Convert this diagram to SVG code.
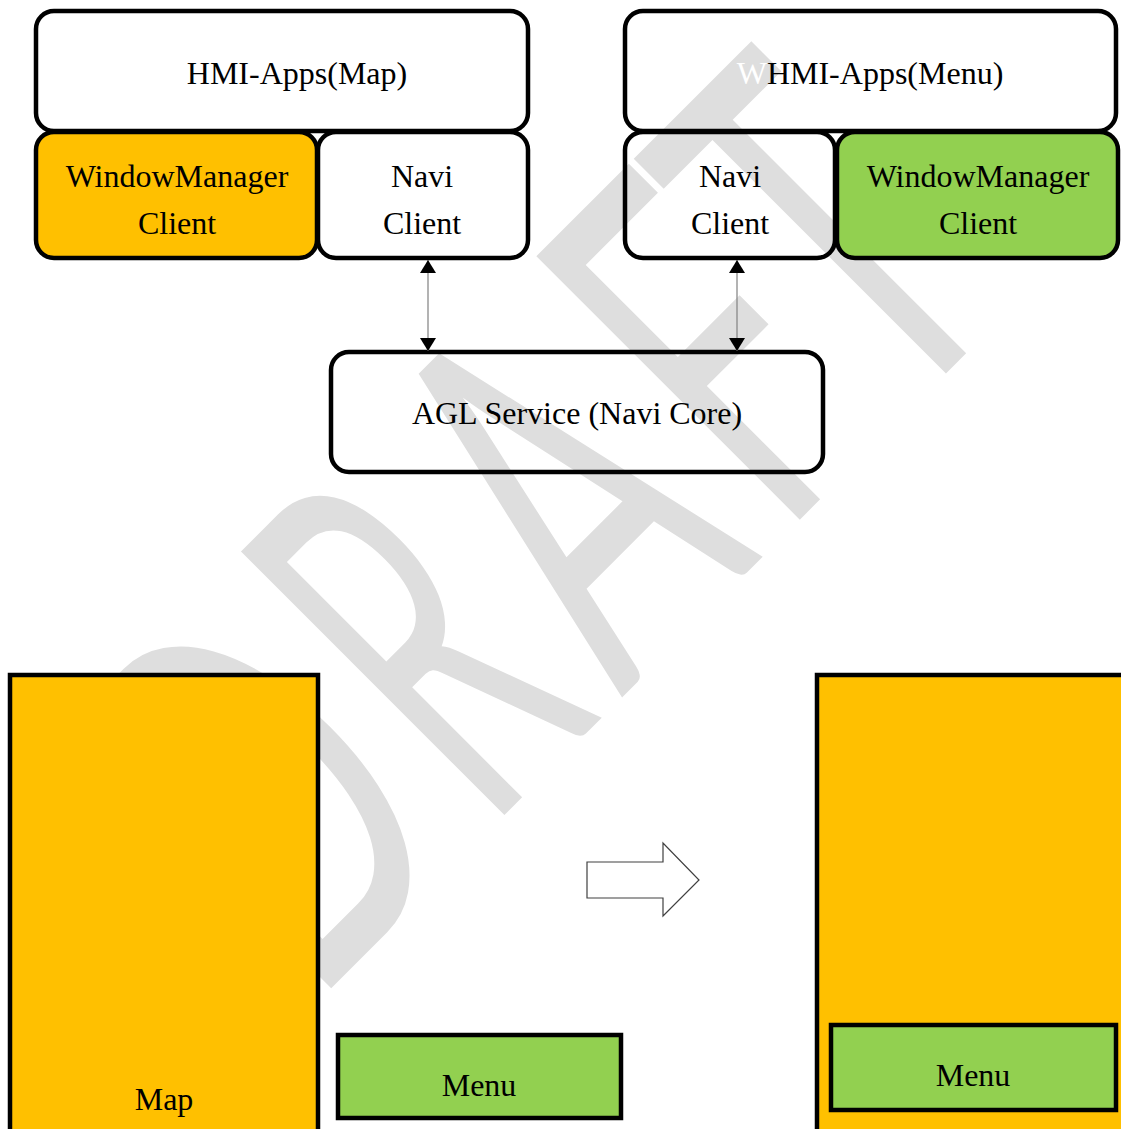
<svg xmlns="http://www.w3.org/2000/svg" width="1121" height="1129" viewBox="0 0 1121 1129">
<defs>
<style>
.box{stroke:#000;stroke-width:4.5}
.wh{fill:none}
.org{fill:#FFC000}
.grn{fill:#92D050}
.t{font-family:"Liberation Serif","Times New Roman",serif;font-size:32px;fill:#000;text-anchor:middle}
.wm{font-family:Lato,"Noto Sans",sans-serif;font-size:520px;fill:#dedede;text-anchor:middle}
.conn{stroke:#808080;stroke-width:1.2;fill:none}
.blk{fill:none;stroke:#404040;stroke-width:1.2}
</style>
<marker id="ah" viewBox="0 0 13 16" refX="13" refY="8" markerWidth="13" markerHeight="16" markerUnits="userSpaceOnUse" orient="auto-start-reverse">
<path d="M0,0 L13,8 L0,16 Z" fill="#000"/>
</marker>
</defs>
<rect width="1121" height="1129" fill="#fff"/>
<g id="watermark" transform="rotate(-45)">
<text class="wm" transform="scale(0.57 1)" x="-665" y="933">D</text>
<text class="wm" transform="scale(0.5 1)" x="-324" y="933">R</text>
<text class="wm" transform="scale(0.57 1)" x="81" y="933">A</text>
<text class="wm" transform="scale(0.57 1)" x="447" y="933">F</text>
<text class="wm" transform="scale(0.57 1)" x="735" y="933">T</text>
</g>
<g id="hmi-map"><rect class="box wh" x="36" y="11" width="492" height="120" rx="18"/><text class="t" x="297" y="84">HMI-Apps(Map)</text></g>
<g id="wm-client-left"><rect class="box org" x="36" y="132" width="281" height="126" rx="18"/><text class="t" x="177" y="187">WindowManager</text><text class="t" x="177" y="234">Client</text></g>
<g id="navi-client-left"><rect class="box wh" x="318" y="132" width="210" height="126" rx="18"/><text class="t" x="422" y="187">Navi</text><text class="t" x="422" y="234">Client</text></g>
<g id="hmi-menu"><rect class="box wh" x="625" y="11" width="491" height="120" rx="18"/><text class="t" x="870" y="84"><tspan fill="#fff">W</tspan>HMI-Apps(Menu)</text></g>
<g id="navi-client-right"><rect class="box wh" x="625" y="132" width="210" height="126" rx="18"/><text class="t" x="730" y="187">Navi</text><text class="t" x="730" y="234">Client</text></g>
<g id="wm-client-right"><rect class="box grn" x="837" y="132" width="281" height="126" rx="18"/><text class="t" x="978" y="187">WindowManager</text><text class="t" x="978" y="234">Client</text></g>
<g id="agl-service"><rect class="box wh" x="331" y="352" width="492" height="120" rx="18"/><text class="t" x="577" y="424">AGL Service (Navi Core)</text></g>
<g id="connectors">
<path class="conn" d="M428,260 L428,351" marker-start="url(#ah)" marker-end="url(#ah)"/>
<path class="conn" d="M737,260 L737,351" marker-start="url(#ah)" marker-end="url(#ah)"/>
</g>
<g id="map-before"><rect class="box org" x="10" y="675" width="308" height="470"/><text class="t" x="164" y="1110">Map</text></g>
<g id="menu-before"><rect class="box grn" x="338" y="1035" width="283" height="83"/><text class="t" x="479" y="1096">Menu</text></g>
<g id="transition-arrow"><polygon class="blk" points="587,862 663,862 663,843 699,880 663,916 663,898 587,898"/></g>
<g id="map-after"><rect class="box org" x="817" y="675" width="320" height="470"/></g>
<g id="menu-after"><rect class="box grn" x="831" y="1025" width="285" height="85"/><text class="t" x="973" y="1086">Menu</text></g>
</svg>
